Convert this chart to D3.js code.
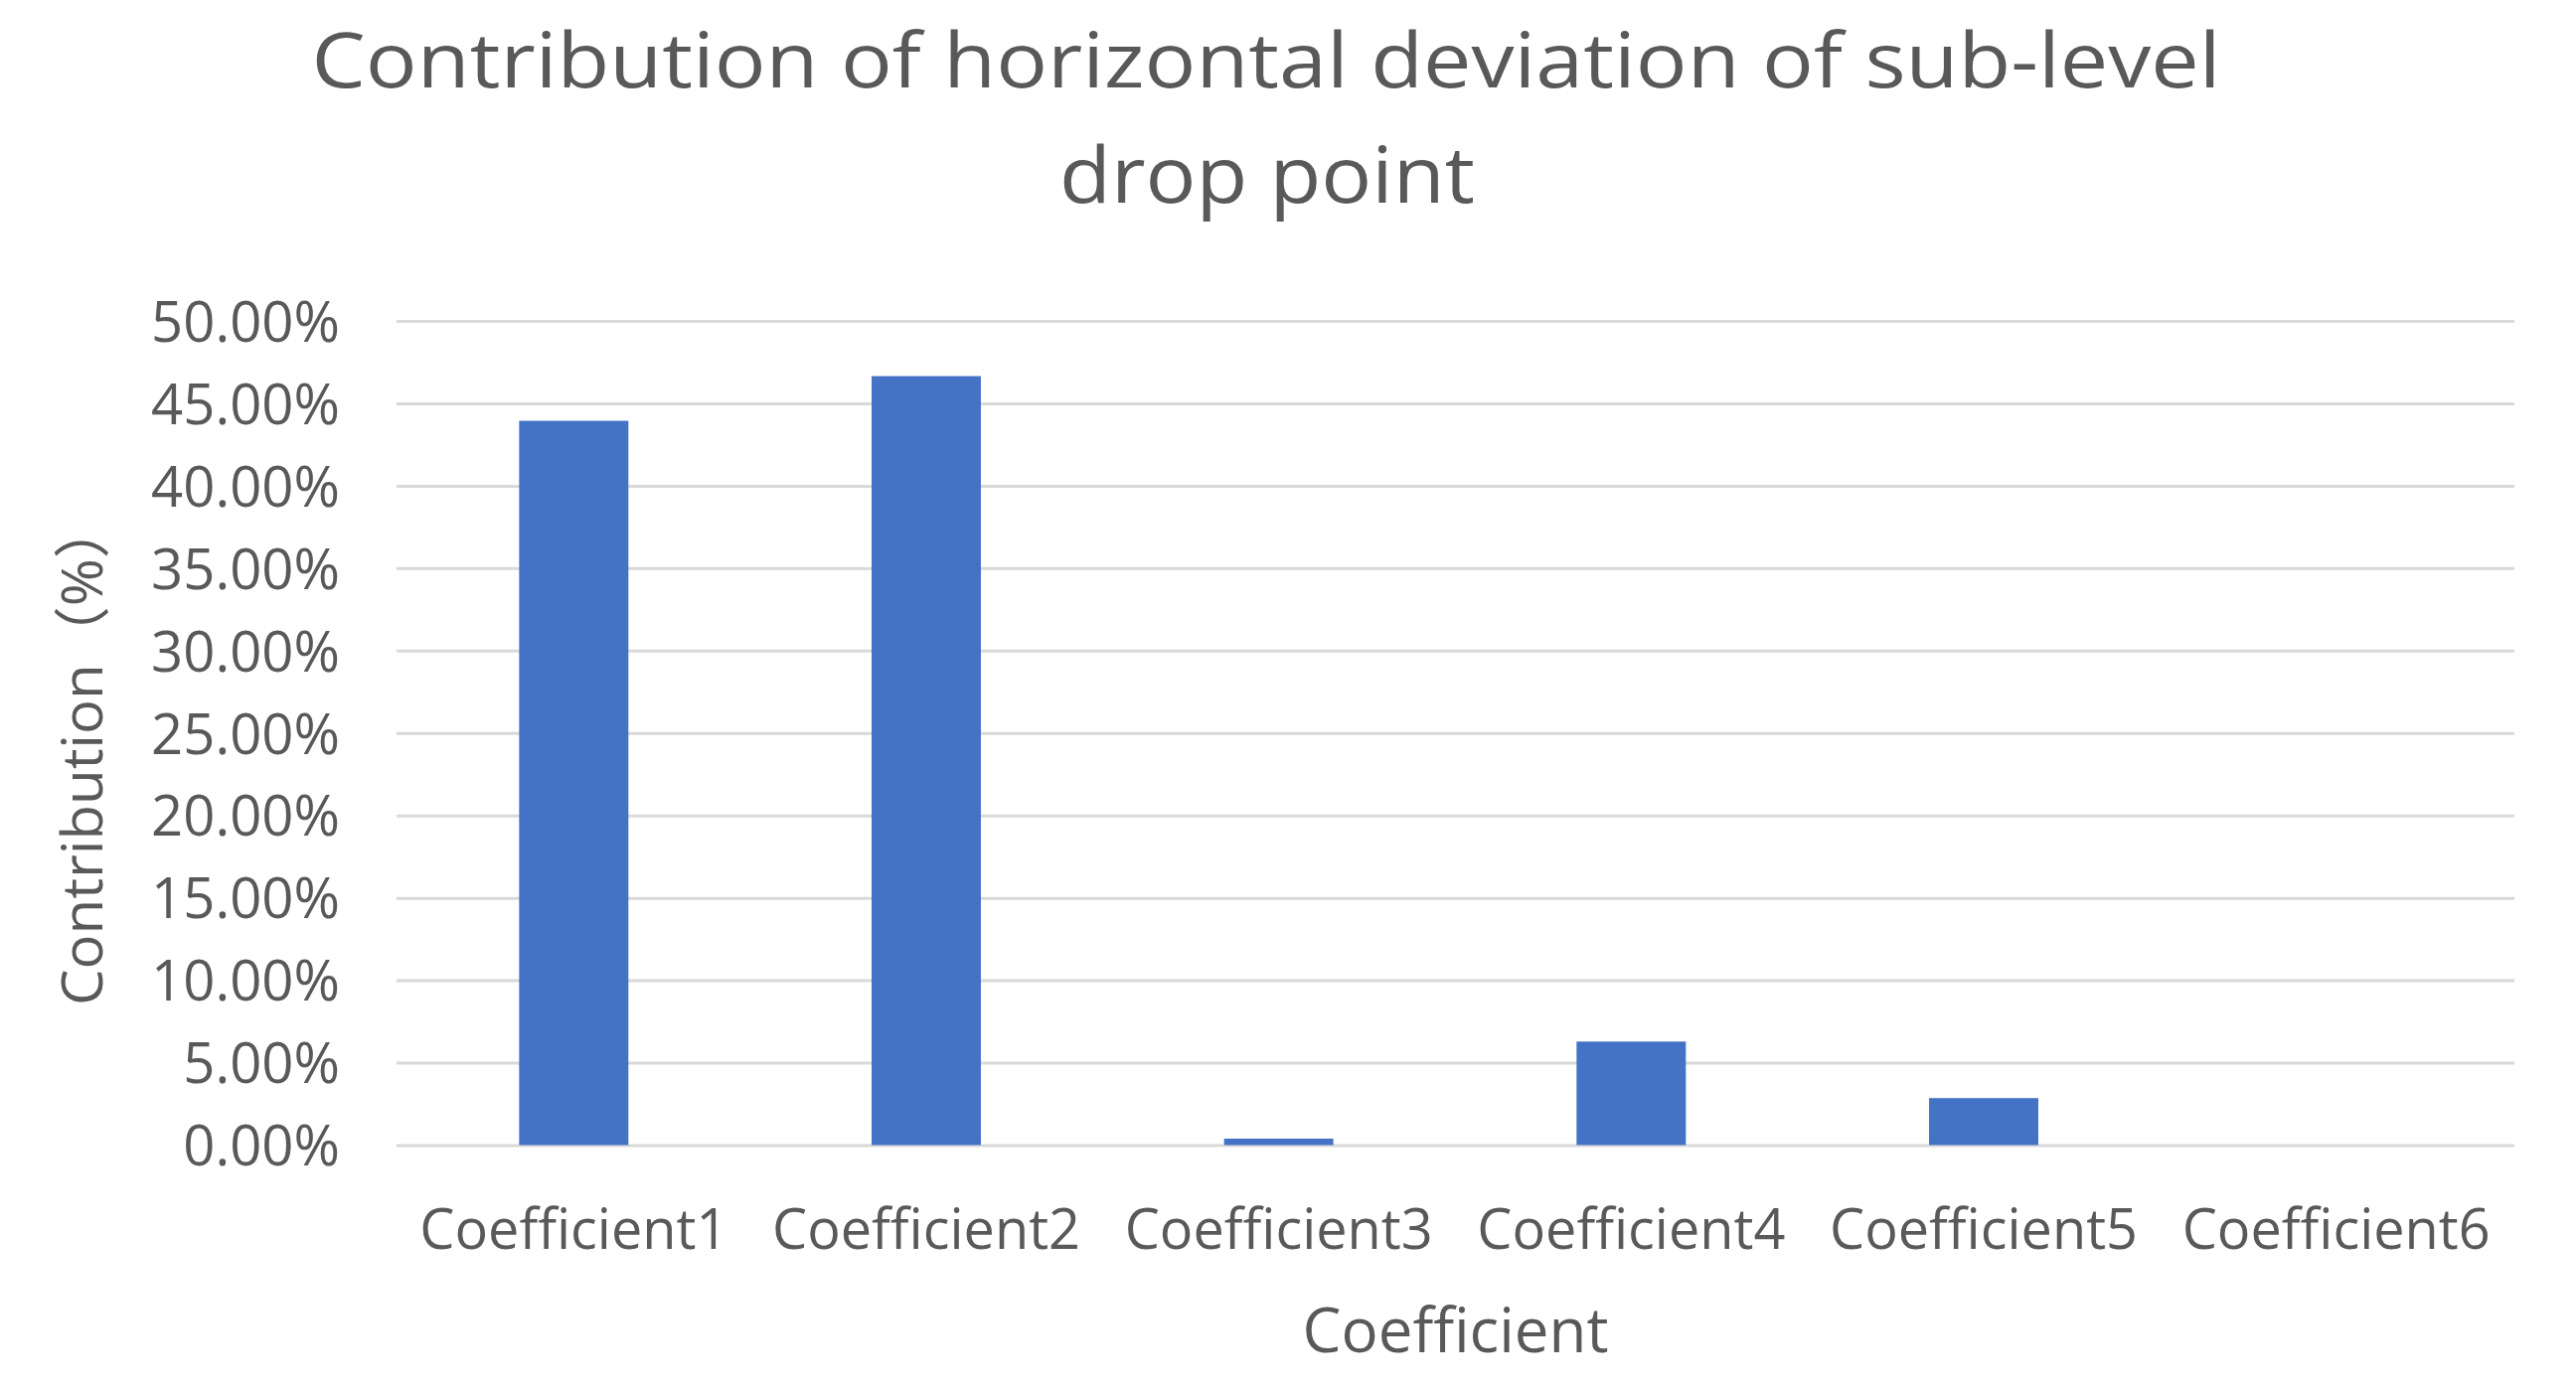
<!DOCTYPE html>
<html>
<head>
<meta charset="utf-8">
<script src="https://cdn.jsdelivr.net/npm/d3@7/dist/d3.min.js"></script>
<style>
html,body{margin:0;padding:0;background:#fff;}
svg{display:block;}
text{font-family:"Open Sans","Noto Sans","Noto Sans CJK SC",sans-serif;fill:#595959;}
</style>
</head>
<body>
<svg id="chart" width="2592" height="1397"></svg>
<script>
// ---- data ----
const categories = ["Coefficient1","Coefficient2","Coefficient3","Coefficient4","Coefficient5","Coefficient6"];
const contributions = [0.4394, 0.4665, 0.0039, 0.0628, 0.0285, 0.0];
const yTicks = [0,0.05,0.10,0.15,0.20,0.25,0.30,0.35,0.40,0.45,0.50];
const titleLines = ["Contribution of horizontal deviation of sub-level","drop point"];
const xTitle = "Coefficient";
const yTitle = "Contribution\uFF08%\uFF09";

// ---- layout ----
const W = 2592, H = 1397;
const plot = {left:400, right:2528, top:323, bottom:1152.5};
const svg = d3.select("#chart");
svg.append("rect").attr("width",W).attr("height",H).attr("fill","#fff");

const x = d3.scaleBand().domain(categories).range([plot.left, plot.right])
  .paddingInner(0.69).paddingOuter(0.345);
const y = d3.scaleLinear().domain([0,0.5]).range([plot.bottom, plot.top]);
const fmt = d3.format(".2%");

function fitWidth(sel, target){
  sel.each(function(){
    const fs = parseFloat(this.getAttribute("font-size"));
    const w = this.getComputedTextLength();
    if (w>0) this.setAttribute("font-size", fs*target/w);
  });
}

// gridlines + tick labels
const yAxis = d3.axisLeft(y).tickValues(yTicks).tickSize(-(2530-399)).tickFormat(fmt).tickPadding(57);
const gy = svg.append("g").attr("transform",`translate(399,0)`).call(yAxis);
gy.select(".domain").remove();
gy.selectAll(".tick line").attr("stroke","#d9d9d9").attr("stroke-width",3);
gy.selectAll(".tick text").attr("font-size",56).attr("fill","#595959")
  .style("font-family",'"Open Sans","Noto Sans",sans-serif').attr("dy","0.36em");
fitWidth(gy.selectAll(".tick text").filter(d=>d===0.5), 190);
const tfs = gy.selectAll(".tick text").filter(d=>d===0.5).attr("font-size");
gy.selectAll(".tick text").attr("font-size", tfs);

// bars
svg.append("g").selectAll("rect").data(categories).join("rect")
  .attr("x", d=>x(d))
  .attr("width", x.bandwidth())
  .attr("y", (d,i)=>y(contributions[i]))
  .attr("height", (d,i)=>y(0)-y(contributions[i]))
  .attr("fill","#4472c4");

// x axis labels
const xAxis = d3.axisBottom(x).tickSize(0).tickPadding(0);
const gx = svg.append("g").attr("transform",`translate(0,1257)`).call(xAxis);
gx.select(".domain").remove();
gx.selectAll(".tick text").attr("font-size",56).attr("dy",0)
  .style("font-family",'"Open Sans","Noto Sans",sans-serif').attr("fill","#595959");
fitWidth(gx.selectAll(".tick text").filter(d=>d===categories[0]), 310);
const cfs = gx.selectAll(".tick text").filter(d=>d===categories[0]).attr("font-size");
gx.selectAll(".tick text").attr("font-size", cfs);

// axis titles
const xt = svg.append("text").attr("x",(399+2530)/2).attr("y",1361)
  .attr("text-anchor","middle").attr("font-size",62).text(xTitle);
fitWidth(xt, 308);

svg.append("text").attr("transform","translate(103,758) rotate(-90)")
  .attr("text-anchor","middle").attr("font-size",57).text(yTitle)
  .attr("textLength",508).attr("lengthAdjust","spacingAndGlyphs");

// title
svg.append("text").attr("x",1274).attr("y",88).attr("text-anchor","middle")
  .attr("font-size",76).text(titleLines[0])
  .attr("textLength",1921).attr("lengthAdjust","spacingAndGlyphs");
svg.append("text").attr("x",1275).attr("y",204).attr("text-anchor","middle")
  .attr("font-size",78).text(titleLines[1])
  .attr("textLength",418).attr("lengthAdjust","spacingAndGlyphs");
</script>
</body>
</html>
